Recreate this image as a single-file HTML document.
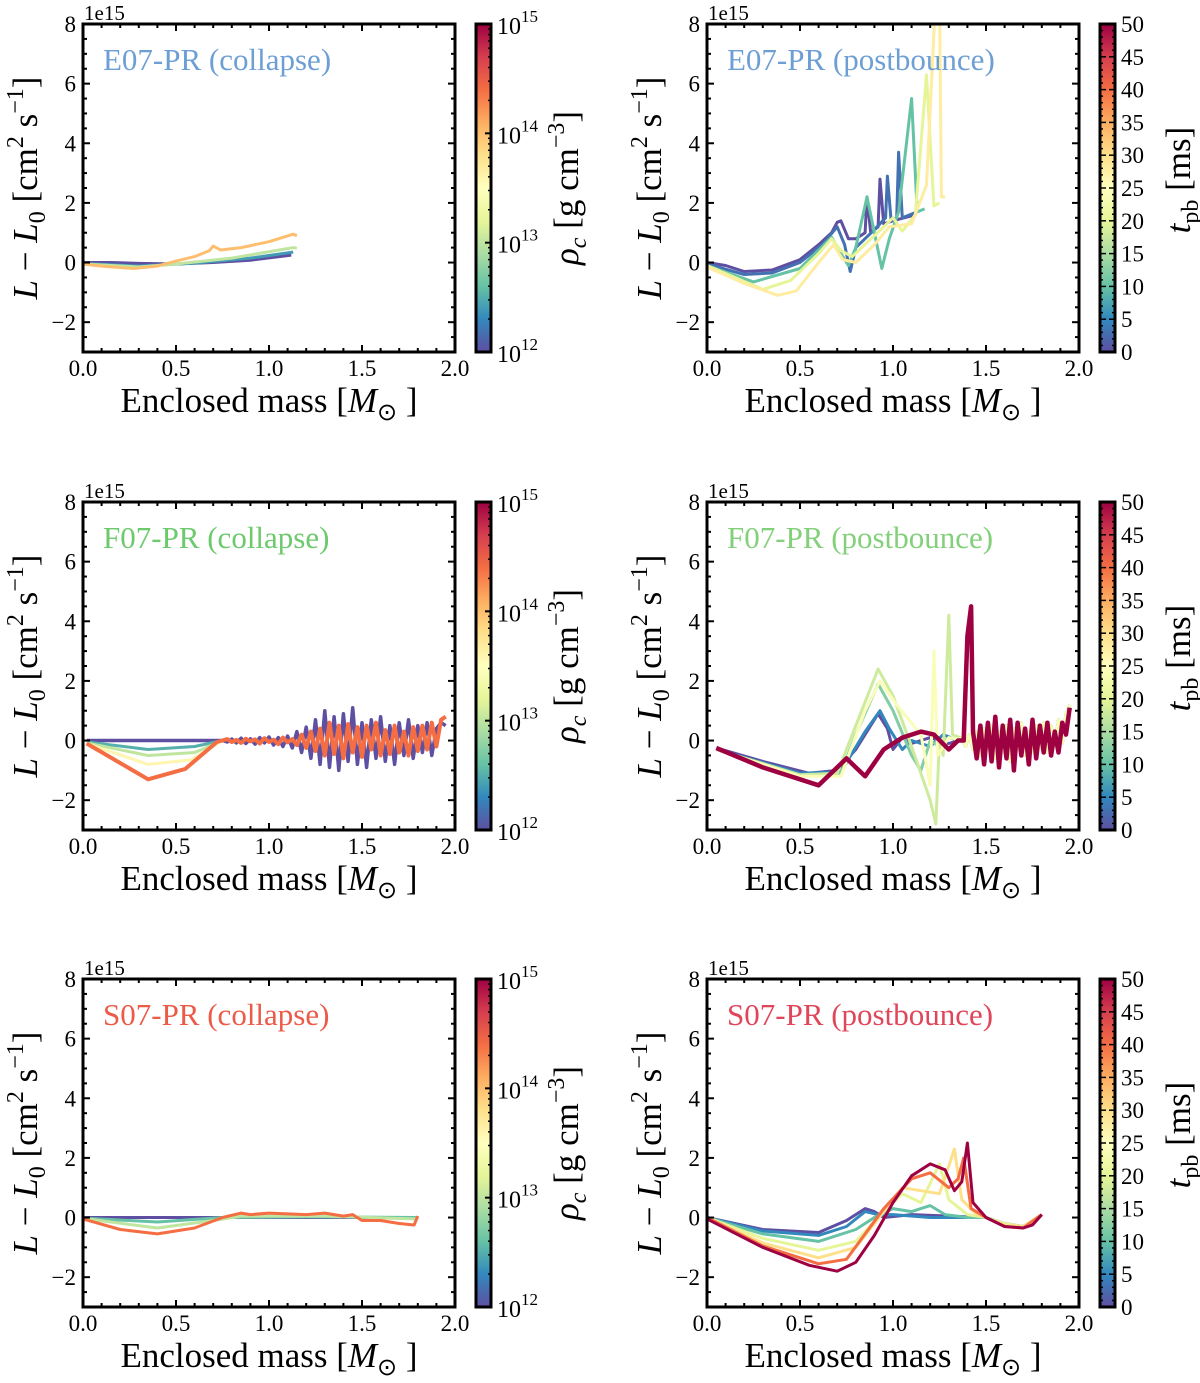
<!DOCTYPE html>
<html><head><meta charset="utf-8"><style>
body{margin:0;background:#fff}
svg{display:block;font-family:"Liberation Serif",serif}
</style></head><body>
<svg id="fig" width="1200" height="1383" viewBox="0 0 1200 1383" xmlns="http://www.w3.org/2000/svg">
<defs>
<linearGradient id="spec" x1="0" y1="1" x2="0" y2="0">
<stop offset="0" stop-color="#5e4fa2"/><stop offset="0.1" stop-color="#3288bd"/><stop offset="0.2" stop-color="#66c2a5"/><stop offset="0.3" stop-color="#abdda4"/><stop offset="0.4" stop-color="#e6f598"/><stop offset="0.5" stop-color="#ffffbf"/><stop offset="0.6" stop-color="#fee08b"/><stop offset="0.7" stop-color="#fdae61"/><stop offset="0.8" stop-color="#f46d43"/><stop offset="0.9" stop-color="#d53e4f"/><stop offset="1" stop-color="#9e0142"/>
</linearGradient>
</defs>
</svg>
<script>
// ---- data ----
const xTicks = [0, 0.5, 1.0, 1.5, 2.0];
const xTickLabels = ["0.0", "0.5", "1.0", "1.5", "2.0"];
const yTicks = [-2, 0, 2, 4, 6, 8];
const yTickLabels = ["\u22122", "0", "2", "4", "6", "8"];
const rhoTicks = [12, 13, 14, 15];
const tpbTicks = [0, 5, 10, 15, 20, 25, 30, 35, 40, 45, 50];

// E07 collapse (color value = log10 rho_c)
const E07C_vals = [12, 12.4, 13, 14];
const E07C_a = [[0,0],[0.15,0],[0.3,-0.03],[0.5,-0.05],[0.7,0.0],[0.9,0.08],[1.12,0.25]];
const E07C_b = [[0,-0.03],[0.3,-0.12],[0.6,-0.02],[0.9,0.15],[1.13,0.35]];
const E07C_c = [[0,-0.05],[0.3,-0.15],[0.5,-0.05],[0.8,0.15],[1.13,0.5],[1.15,0.48]];
const E07C_d = [[0,-0.05],[0.1,-0.12],[0.27,-0.2],[0.4,-0.12],[0.5,0.05],[0.6,0.2],[0.68,0.4],[0.7,0.55],[0.74,0.42],[0.85,0.5],[1.0,0.7],[1.13,0.95],[1.15,0.9]];

// E07 postbounce (color value = t_pb ms)
const E07P_vals = [0, 3, 10, 20, 28];
const E07P_a = [[0,0],[0.1,-0.1],[0.2,-0.3],[0.35,-0.25],[0.5,0.1],[0.6,0.6],[0.67,1.0],[0.7,1.35],[0.72,1.4],[0.76,0.8],[0.8,0.8],[0.85,1.0],[0.86,2.2],[0.88,1.0],[0.92,1.2],[0.93,2.8],[0.95,1.3],[1.0,1.4],[1.12,1.6]];
const E07P_b = [[0,-0.05],[0.2,-0.4],[0.35,-0.35],[0.5,0.0],[0.62,0.6],[0.7,1.2],[0.74,0.6],[0.77,-0.3],[0.8,0.5],[0.9,1.1],[0.96,1.5],[0.97,2.9],[0.99,1.4],[1.02,1.5],[1.03,3.7],[1.05,1.5],[1.13,1.7]];
const E07P_c = [[0,-0.1],[0.25,-0.65],[0.5,-0.2],[0.67,0.85],[0.72,0.3],[0.76,-0.1],[0.8,0.5],[0.86,2.2],[0.9,1.0],[0.94,-0.2],[0.98,0.8],[1.03,1.7],[1.1,5.5],[1.13,1.7],[1.17,1.8]];
const E07P_d = [[0,-0.1],[0.3,-0.9],[0.45,-0.6],[0.6,0.3],[0.67,0.8],[0.72,0.4],[0.78,0.2],[0.9,0.9],[1.0,1.5],[1.05,1.05],[1.12,1.6],[1.18,6.3],[1.22,1.9],[1.25,2.0]];
const E07P_e = [[0,-0.15],[0.2,-0.7],[0.38,-1.1],[0.48,-0.95],[0.6,0.0],[0.68,0.6],[0.73,0.1],[0.8,0.0],[0.9,0.6],[0.98,1.2],[1.1,1.3],[1.18,2.6],[1.23,9.0],[1.25,9.0],[1.26,2.2],[1.28,2.2]];

// F07 collapse
const F07C_vals = [12, 12.5, 13, 13.6, 14.4];
const F07C_noiseStart = 0.75, F07C_noiseStep = 0.025;
const F07C_noiseA = [0,-0.05,0.05,-0.08,0.08,-0.1,0.06,-0.12,0.1,-0.08,0.12,-0.15,0.1,-0.2,0.15,-0.25,0.3,-0.4,0.45,-0.6,0.7,-0.8,1.0,-0.9,0.8,-1.0,0.9,-0.7,1.1,-0.8,0.6,-0.9,0.7,-0.6,0.8,-0.7,0.5,-0.8,0.6,-0.5,0.7,-0.6,0.5,-0.4,0.6,-0.5,0.4,0.6,0.5];
const F07C_noiseB = [0,0.05,-0.05,0.02,-0.08,0.06,-0.03,0.04,-0.1,0.08,-0.05,0.03,-0.12,0.1,-0.06,0.05,-0.15,0.2,-0.25,0.3,-0.35,0.4,-0.5,0.6,-0.45,0.5,-0.6,0.55,-0.4,0.45,-0.55,0.5,-0.3,0.6,-0.5,0.35,-0.45,0.5,-0.4,0.3,-0.5,0.45,-0.35,0.5,-0.3,0.6,-0.2,0.7,0.8];
const F07C_a = [[0.02,0],[0.4,0],[0.75,0]];
const F07C_b = [[0.02,-0.05],[0.35,-0.3],[0.6,-0.2],[0.75,0]];
const F07C_c = [[0.02,-0.08],[0.35,-0.5],[0.6,-0.4],[0.75,0]];
const F07C_d = [[0.02,-0.1],[0.35,-0.8],[0.58,-0.65],[0.75,0]];
const F07C_e = [[0.02,-0.1],[0.35,-1.3],[0.55,-0.95],[0.72,-0.05],[0.75,0]];

// F07 postbounce
const F07P_vals = [0, 5, 12, 18, 24, 50];
const F07P_noiseStart = 1.35, F07P_noiseStep = 0.02;
const F07P_noise = [0,0.1,-0.2,0.2,-0.3,0.3,-0.5,0.4,-0.3,0.5,-0.6,0.3,-0.4,0.5,-0.7,0.4,-0.3,0.6,-0.5,0.3,-0.4,0.5,-0.3,0.6,-0.4,0.5,-0.2,0.7,-0.1,0.9,1.2];
const F07P_redStart = 1.43, F07P_redStep = 0.02;
const F07P_redNoise = [0.3,-0.6,0.5,-0.8,0.6,-0.7,0.8,-0.9,0.5,-0.6,0.7,-1.0,0.6,-0.5,0.4,-0.8,0.7,-0.6,0.5,-0.4,0.6,-0.5,0.3,-0.4,0.6,0.2,1.1];
const F07P_a = [[0.05,-0.25],[0.3,-0.7],[0.55,-1.1],[0.7,-1.0],[0.8,-0.3],[0.88,0.5],[0.92,0.9],[0.97,0.4],[1.0,-0.3],[1.05,0.1],[1.1,-0.1],[1.2,0.1],[1.3,-0.1],[1.35,0]];
const F07P_b = [[0.05,-0.3],[0.5,-1.1],[0.72,-1.05],[0.85,0.3],[0.93,1.0],[0.98,0.4],[1.05,-0.3],[1.1,0],[1.2,-0.2],[1.27,0.2],[1.35,0]];
const F07P_c = [[0.05,-0.3],[0.5,-1.2],[0.72,-1.1],[0.8,0.2],[0.92,1.9],[1.0,1.0],[1.1,-0.5],[1.15,-1.0],[1.2,0.0],[1.25,-0.2],[1.3,0.1],[1.35,0]];
const F07P_d = [[0.05,-0.3],[0.5,-1.15],[0.7,-1.1],[0.8,0.5],[0.92,2.4],[1.0,1.5],[1.1,-0.2],[1.2,-2.0],[1.23,-2.8],[1.25,0],[1.27,-0.5],[1.3,4.2],[1.32,0.2],[1.4,0]];
const F07P_e = [[0.05,-0.3],[0.5,-1.2],[0.72,-1.2],[0.85,1.0],[0.93,2.0],[1.02,1.2],[1.15,0.2],[1.2,-1.5],[1.22,3.0],[1.24,-0.5],[1.3,0.1],[1.4,0]];
const F07P_f = [[0.05,-0.25],[0.3,-0.9],[0.6,-1.5],[0.7,-0.9],[0.75,-0.6],[0.8,-0.9],[0.85,-1.2],[0.95,-0.3],[1.05,0.1],[1.15,0.3],[1.22,0.2],[1.3,-0.3],[1.35,0],[1.38,0],[1.4,3.5],[1.42,4.5],[1.43,0.3]];

// S07 collapse
const S07C_vals = [12, 12.6, 13, 14.4];
const S07C_a = [[0,0],[0.5,0],[1.0,0],[1.5,0],[1.8,0]];
const S07C_b = [[0,-0.02],[0.4,-0.15],[0.75,0],[1.2,0.03],[1.8,0]];
const S07C_c = [[0,-0.03],[0.4,-0.35],[0.7,-0.1],[0.85,0.05],[1.3,0.05],[1.8,-0.05]];
const S07C_d = [[0,-0.05],[0.2,-0.4],[0.4,-0.55],[0.6,-0.35],[0.75,0],[0.85,0.15],[0.9,0.1],[1.0,0.15],[1.2,0.1],[1.3,0.15],[1.4,0.05],[1.45,0.1],[1.5,-0.1],[1.6,-0.1],[1.7,-0.2],[1.78,-0.25],[1.8,0.05]];

// S07 postbounce
const S07P_vals = [0, 5, 10, 20, 30, 40, 50];
const S07P_a = [[0,0],[0.3,-0.4],[0.6,-0.5],[0.75,-0.1],[0.85,0.3],[0.9,0.2],[0.95,0.0],[1.1,0.1],[1.5,0],[1.6,-0.2],[1.7,-0.3],[1.75,-0.2],[1.8,0.1]];
const S07P_b = [[0,0],[0.3,-0.45],[0.6,-0.6],[0.75,-0.3],[0.85,0.2],[0.92,0.1],[1.0,0.1],[1.2,0.0],[1.5,0],[1.6,-0.2],[1.7,-0.3],[1.8,0.1]];
const S07P_c = [[0,0],[0.3,-0.55],[0.6,-0.8],[0.8,-0.4],[0.9,0.0],[1.0,0.3],[1.1,0.2],[1.2,0.4],[1.28,0.1],[1.4,0],[1.5,0],[1.6,-0.2],[1.7,-0.3],[1.8,0.1]];
const S07P_d = [[0,0],[0.3,-0.7],[0.6,-1.1],[0.8,-0.8],[0.95,0.2],[1.05,0.8],[1.15,0.5],[1.25,1.8],[1.3,0.6],[1.4,0.1],[1.5,0],[1.6,-0.2],[1.7,-0.3],[1.8,0.1]];
const S07P_e = [[0,0],[0.3,-0.85],[0.6,-1.35],[0.8,-1.0],[0.95,0.2],[1.05,1.0],[1.15,0.9],[1.25,0.8],[1.33,2.3],[1.37,0.6],[1.45,0.1],[1.5,0],[1.6,-0.25],[1.7,-0.3],[1.8,0.1]];
const S07P_f = [[0,0],[0.3,-0.95],[0.6,-1.55],[0.75,-1.4],[0.95,0.3],[1.1,1.3],[1.2,1.5],[1.3,1.0],[1.35,1.3],[1.38,2.0],[1.42,0.3],[1.5,0],[1.6,-0.3],[1.7,-0.35],[1.8,0.1]];
const S07P_g = [[0,-0.05],[0.3,-1.0],[0.55,-1.6],[0.7,-1.8],[0.8,-1.5],[0.9,-0.6],[1.0,0.5],[1.1,1.4],[1.2,1.8],[1.28,1.6],[1.33,0.9],[1.37,1.2],[1.4,2.5],[1.43,0.5],[1.5,0],[1.6,-0.3],[1.7,-0.35],[1.75,-0.25],[1.8,0.1]];

// ---- drawing ----
const NS = "http://www.w3.org/2000/svg";
const svg = document.getElementById("fig");
const stops = ["#5e4fa2","#3288bd","#66c2a5","#abdda4","#e6f598","#ffffbf","#fee08b","#fdae61","#f46d43","#d53e4f","#9e0142"];
function hex(h){return [1,3,5].map(i=>parseInt(h.substr(i,2),16));}
function cmap(v){v=Math.max(0,Math.min(1,v));const p=v*10,i=Math.min(9,Math.floor(p)),f=p-i;const a=hex(stops[i]),b=hex(stops[i+1]);return "rgb("+a.map((c,k)=>Math.round(c+(b[k]-c)*f)).join(",")+")";}
function el(tag, attrs, parent){const e=document.createElementNS(NS,tag);for(const k in attrs)e.setAttribute(k,attrs[k]);(parent||svg).appendChild(e);return e;}
function noiseSeries(start, step, arr){return arr.map((y,i)=>[start+step*i,y]);}

const W = 372, H = 328;
function panel(id, px, py, title, titleColor, series, cb){
  const g = el("g", {});
  
  
  const sx = x => px + x / 2 * W;
  const sy = y => py + (8 - y) / 11 * H;
  const clip = el("clipPath", {id: "clip-" + id}, g);
  el("rect", {x: px, y: py, width: W, height: H}, clip);
  const lines = el("g", {"clip-path": "url(#clip-" + id + ")"}, g);
  
  
  series.forEach((s, i) => {
    const p = el("polyline", {points: s.pts.map(q => sx(q[0]).toFixed(1) + "," + sy(q[1]).toFixed(1)).join(" "), fill: "none", stroke: cmap(s.v), "stroke-width": s.w || 3, "stroke-linejoin": "round"}, lines);
    
    
  });
  const tk = el("g", {stroke: "#000", "stroke-width": 2}, g);
  for (let i = 0; i <= 20; i++) { const x = sx(i / 10), L = i % 5 === 0 ? 7 : 4;
    el("line", {x1: x, y1: py + H, x2: x, y2: py + H - L}, tk); el("line", {x1: x, y1: py, x2: x, y2: py + L}, tk); }
  for (let i = 0; i <= 22; i++) { const v = -3 + i * 0.5, y = sy(v), L = (v % 2 === 0) ? 7 : 4;
    el("line", {x1: px, y1: y, x2: px + L, y2: y}, tk); el("line", {x1: px + W, y1: y, x2: px + W - L, y2: y}, tk); }
  const fr = el("rect", {x: px, y: py, width: W, height: H, fill: "none", stroke: "#000", "stroke-width": 3}, g);
  
  
  xTicks.forEach((v, i) => { const t = el("text", {x: sx(v), y: py + H + 24, "text-anchor": "middle", "font-size": 23}, g); t.textContent = xTickLabels[i];
      });
  yTicks.forEach((v, i) => { const t = el("text", {x: px - 7, y: sy(v) + 8, "text-anchor": "end", "font-size": 23}, g); t.textContent = yTickLabels[i];
      });
  const off = el("text", {x: px + 1, y: py - 4, "font-size": 21}, g); off.textContent = "1e15";
   
  const tt = el("text", {x: px + 20, y: py + 46, "font-size": 31, fill: titleColor}, g); tt.textContent = title;
   
  const xl = el("text", {x: px + W / 2, y: py + H + 60, "text-anchor": "middle", "font-size": 35}, g);
  xl.innerHTML = 'Enclosed mass [<tspan font-style="italic">M</tspan><tspan font-size="24" dy="8">\u2299</tspan><tspan dy="-8"> ]</tspan>';
   
  const cy = py + H / 2, cx = px - 46;
  const yl = el("text", {x: cx, y: cy, "text-anchor": "middle", "font-size": 35, transform: "rotate(-90 " + cx + " " + cy + ")"}, g);
  yl.innerHTML = '<tspan font-style="italic">L</tspan> \u2212 <tspan font-style="italic">L</tspan><tspan font-size="24" dy="8">0</tspan><tspan dy="-8"> [cm</tspan><tspan font-size="24" dy="-14">2</tspan><tspan dy="14"> s</tspan><tspan font-size="24" dy="-14">\u22121</tspan><tspan dy="14">]</tspan>';
   
  const bx = px + W + 21, bw = 15;
  const cbg = el("g", {}, g);
  
  
  el("rect", {x: bx, y: py, width: bw, height: H, fill: "url(#spec)", stroke: "#000", "stroke-width": 3}, cbg);
  if (cb === "rho") {
    const cyv = v => py + H - (v - 12) / 3 * H;
    for (let d = 12; d < 15; d++) for (let m = 2; m <= 9; m++) { const y = cyv(d + Math.log10(m)); el("line", {x1: bx + bw, y1: y, x2: bx + bw - 3, y2: y, stroke: "#000", "stroke-width": 1.5}, cbg); }
    rhoTicks.forEach(v => { const y = cyv(v); el("line", {x1: bx + bw, y1: y, x2: bx + bw - 6, y2: y, stroke: "#000", "stroke-width": 2}, cbg);
      const t = el("text", {x: bx + bw + 6, y: y + 10, "font-size": 24}, cbg); t.innerHTML = '10<tspan font-size="17" dy="-12">' + v + '</tspan>';
        });
    const lx = bx + 102, ly = py + H / 2;
    const lab = el("text", {x: lx, y: ly, "text-anchor": "middle", "font-size": 35, transform: "rotate(-90 " + lx + " " + ly + ")"}, cbg);
    lab.innerHTML = '<tspan font-style="italic">\u03C1</tspan><tspan font-style="italic" font-size="24" dy="8">c</tspan><tspan dy="-8"> [g cm</tspan><tspan font-size="24" dy="-14">\u22123</tspan><tspan dy="14">]</tspan>';
     
  } else {
    const cyv = v => py + H - v / 50 * H;
    for (let v = 0; v <= 50; v += 1) { const y = cyv(v), L = v % 5 === 0 ? 6 : 3;
      el("line", {x1: bx + bw, y1: y, x2: bx + bw - L, y2: y, stroke: "#000", "stroke-width": 1.5}, cbg);
      el("line", {x1: bx, y1: y, x2: bx + L, y2: y, stroke: "#000", "stroke-width": 1.5}, cbg); }
    tpbTicks.forEach(v => { const t = el("text", {x: bx + bw + 6, y: cyv(v) + 8, "font-size": 23}, cbg); t.textContent = v;
        });
    const lx = bx + 90, ly = py + H / 2 - 8;
    const lab = el("text", {x: lx, y: ly, "text-anchor": "middle", "font-size": 35, transform: "rotate(-90 " + lx + " " + ly + ")"}, cbg);
    lab.innerHTML = '<tspan font-style="italic">t</tspan><tspan font-size="24" dy="8">pb</tspan><tspan dy="-8"> [ms]</tspan>';
     
  }
}
const rv = v => (v - 12) / 3, tv = t => t / 50;
const LX = 83, RX = 707, R1 = 24, R2 = 502, R3 = 979;

panel("e07-collapse", LX, R1, "E07-PR (collapse)", "#6d9fd4",
  [E07C_a, E07C_b, E07C_c, E07C_d].map((p, i) => ({pts: p, v: rv(E07C_vals[i])})), "rho");
panel("e07-postbounce", RX, R1, "E07-PR (postbounce)", "#6d9fd4",
  [E07P_a, E07P_b, E07P_c, E07P_d, E07P_e].map((p, i) => ({pts: p, v: tv(E07P_vals[i])})), "tpb");

const fcN_A = noiseSeries(F07C_noiseStart, F07C_noiseStep, F07C_noiseA);
const fcN_B = noiseSeries(F07C_noiseStart, F07C_noiseStep, F07C_noiseB);
panel("f07-collapse", LX, R2, "F07-PR (collapse)", "#6cc96c", [
  {pts: F07C_a.concat(fcN_A), v: rv(F07C_vals[0]), w: 3.5},
  {pts: F07C_b.concat(fcN_B), v: rv(F07C_vals[1])},
  {pts: F07C_c.concat(fcN_B), v: rv(F07C_vals[2])},
  {pts: F07C_d.concat(fcN_B), v: rv(F07C_vals[3])},
  {pts: F07C_e.concat(fcN_B), v: rv(F07C_vals[4]), w: 4}], "rho");

const fpN = noiseSeries(F07P_noiseStart, F07P_noiseStep, F07P_noise);
const fpR = noiseSeries(F07P_redStart, F07P_redStep, F07P_redNoise);
panel("f07-postbounce", RX, R2, "F07-PR (postbounce)", "#82d07a", [
  {pts: F07P_a.concat(fpN), v: tv(F07P_vals[0])},
  {pts: F07P_b.concat(fpN), v: tv(F07P_vals[1])},
  {pts: F07P_c.concat(fpN), v: tv(F07P_vals[2])},
  {pts: F07P_d.concat(fpN), v: tv(F07P_vals[3])},
  {pts: F07P_e.concat(fpN), v: tv(F07P_vals[4])},
  {pts: F07P_f.concat(fpR), v: tv(F07P_vals[5]), w: 4.5}], "tpb");

panel("s07-collapse", LX, R3, "S07-PR (collapse)", "#ec5a48",
  [S07C_a, S07C_b, S07C_c, S07C_d].map((p, i) => ({pts: p, v: rv(S07C_vals[i])})), "rho");
panel("s07-postbounce", RX, R3, "S07-PR (postbounce)", "#e0465a",
  [S07P_a, S07P_b, S07P_c, S07P_d, S07P_e, S07P_f, S07P_g].map((p, i) => ({pts: p, v: tv(S07P_vals[i])})), "tpb");
</script>
</body></html>
